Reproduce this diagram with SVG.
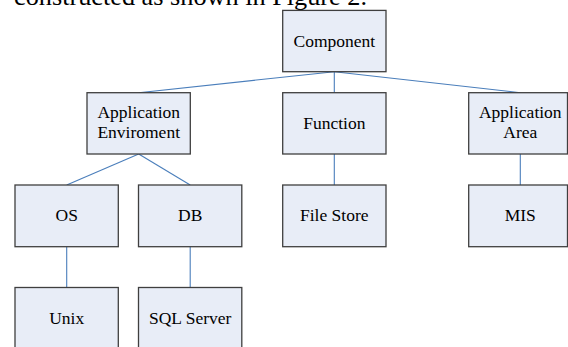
<svg xmlns="http://www.w3.org/2000/svg" width="568" height="347" viewBox="0 0 568 347">
<style>
.box{fill:#e8edf7;stroke:#3f3f3f;stroke-width:1.3}
.lbl{font-family:"Liberation Serif","Times New Roman",serif;font-size:17.5px;fill:#000;text-anchor:middle}
.cap{font-family:"Liberation Serif","Times New Roman",serif;font-size:26px;fill:#000}
.con line{stroke:#4a7ebb;stroke-width:1.1;fill:none}
</style>
<rect width="568" height="347" fill="#fff"/>
<text class="cap" x="14" y="4.5" textLength="353" lengthAdjust="spacingAndGlyphs">constructed as shown in Figure 2.</text>
<g id="connectors" class="con">
<line x1="334.3" y1="71.7" x2="138.7" y2="92.7"/>
<line x1="334.3" y1="71.7" x2="334.3" y2="92.7"/>
<line x1="334.3" y1="71.7" x2="520.3" y2="92.7"/>
<line x1="138.7" y1="154" x2="66.7" y2="185"/>
<line x1="138.7" y1="154" x2="190.2" y2="185"/>
<line x1="334.3" y1="154" x2="334.3" y2="185"/>
<line x1="520.3" y1="154" x2="520.3" y2="185"/>
<line x1="66.7" y1="246.7" x2="66.7" y2="287.5"/>
<line x1="190.2" y1="246.7" x2="190.2" y2="287.5"/>
</g>
<g id="component"><rect class="box" x="282.7" y="10.4" width="103.3" height="61.3"/><text class="lbl" x="334.3" y="47">Component</text></g>
<g id="app-env"><rect class="box" x="87" y="92.7" width="103.3" height="61.3"/><text class="lbl" x="138.7" y="117.7">Application</text><text class="lbl" x="138.7" y="138.3">Enviroment</text></g>
<g id="function"><rect class="box" x="282.7" y="92.7" width="103.3" height="61.3"/><text class="lbl" x="334.3" y="129">Function</text></g>
<g id="app-area"><rect class="box" x="468.7" y="92.7" width="98.8" height="61.3"/><text class="lbl" x="520.3" y="117.7">Application</text><text class="lbl" x="520.3" y="138.3">Area</text></g>
<g id="os"><rect class="box" x="15" y="185" width="103.3" height="61.7"/><text class="lbl" x="66.7" y="221">OS</text></g>
<g id="db"><rect class="box" x="138.5" y="185" width="103.3" height="61.7"/><text class="lbl" x="190.2" y="221">DB</text></g>
<g id="file-store"><rect class="box" x="282.7" y="185" width="103.3" height="61.7"/><text class="lbl" x="334.3" y="221">File Store</text></g>
<g id="mis"><rect class="box" x="468.7" y="185" width="98.8" height="61.7"/><text class="lbl" x="520.3" y="221">MIS</text></g>
<g id="unix"><rect class="box" x="15" y="287.5" width="103.3" height="70"/><text class="lbl" x="66.7" y="324">Unix</text></g>
<g id="sql-server"><rect class="box" x="138.5" y="287.5" width="103.3" height="70"/><text class="lbl" x="190.2" y="324">SQL Server</text></g>
</svg>
